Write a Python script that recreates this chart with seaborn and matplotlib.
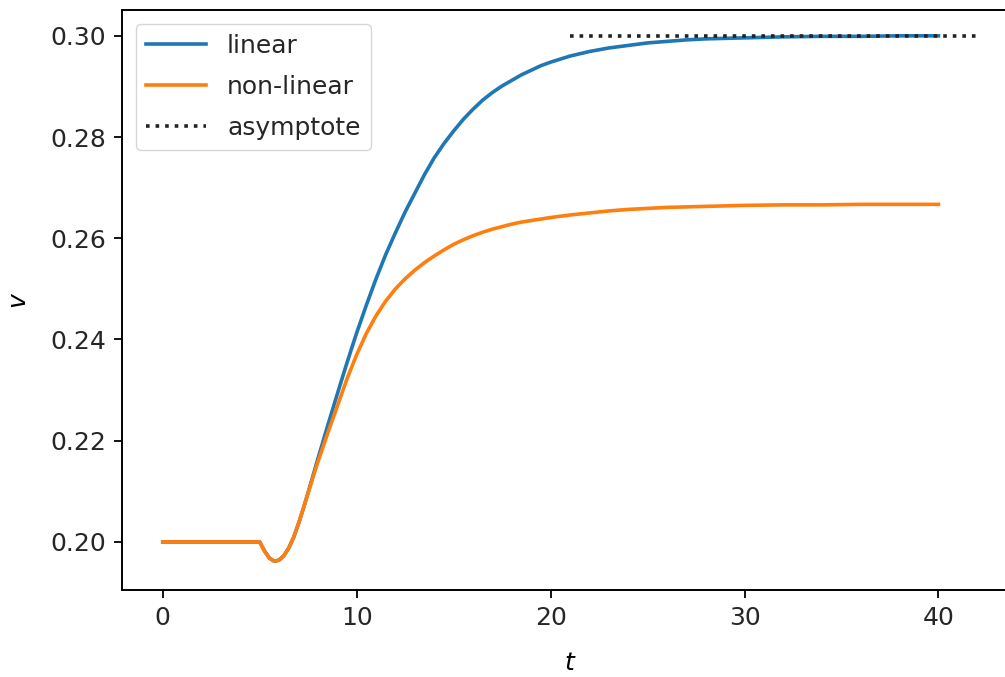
import numpy as np
import pandas as pd
import matplotlib
matplotlib.use("Agg")
import matplotlib.pyplot as plt
import seaborn as sns

# ---- data ----
t_values = [0, 1, 2, 3, 4, 5, 5.25, 5.5, 5.75, 6.0, 6.25, 6.5, 6.75, 7.0, 7.25, 7.5, 7.75,
            8.0, 8.5, 9.0, 9.5, 10.0, 10.5, 11.0, 11.5, 12.0, 12.5, 13.0, 13.5, 14.0, 14.5,
            15.0, 15.5, 16.0, 16.5, 17.0, 17.5, 18.0, 18.5, 19.0, 19.5, 20.0,
            21, 22, 23, 24, 25, 26, 27, 28, 29, 30, 32, 34, 36, 38, 40]

v_linear = [0.2, 0.2, 0.2, 0.2, 0.2, 0.2, 0.1982, 0.1968, 0.1962, 0.1964, 0.1973, 0.1988,
            0.2009, 0.2036, 0.2066, 0.2098, 0.2131,
            0.2164, 0.2229, 0.2292, 0.2354, 0.2413, 0.2468, 0.2520, 0.2568, 0.2611, 0.2652,
            0.2689, 0.2726, 0.2759, 0.2787,
            0.2812, 0.2835, 0.2855, 0.2873, 0.2888, 0.2901, 0.2912, 0.2923, 0.2932, 0.2941, 0.2948,
            0.2960, 0.2969, 0.2976, 0.2981, 0.2986, 0.2989, 0.2992, 0.2994, 0.2995, 0.2996,
            0.2998, 0.2999, 0.2999, 0.3000, 0.3000]

v_nonlinear = [0.2, 0.2, 0.2, 0.2, 0.2, 0.2, 0.1982, 0.1968, 0.1962, 0.1964, 0.1973, 0.1988,
               0.2009, 0.2036, 0.2066, 0.2097, 0.2128,
               0.2158, 0.2214, 0.2268, 0.2322, 0.2370, 0.2412, 0.2447, 0.2476, 0.2500, 0.2520,
               0.2537, 0.2552, 0.2565, 0.2577,
               0.2588, 0.2597, 0.2605, 0.2612, 0.2618, 0.2623, 0.2628, 0.2632, 0.2635, 0.2638, 0.2641,
               0.2646, 0.2650, 0.2654, 0.2657, 0.2659, 0.2661, 0.2662, 0.2663, 0.2664, 0.2665,
               0.2666, 0.2666, 0.2667, 0.2667, 0.2667]

asym_t = [21, 42]
asym_v = [0.3, 0.3]

labels = ["linear", "non-linear", "asymptote"]

# ---- styling ----
FS = 18
plt.rcParams.update({
    "font.family": ["DejaVu Sans"],
    "font.size": FS,
    "axes.linewidth": 1.4,
    "xtick.major.size": 6,
    "ytick.major.size": 6,
    "xtick.major.width": 1.3,
    "ytick.major.width": 1.3,
    "xtick.major.pad": 5.5,
    "ytick.major.pad": 5.5,
    "xtick.labelsize": FS,
    "ytick.labelsize": FS,
    "text.color": "#262626",
    "xtick.labelcolor": "#262626",
    "ytick.labelcolor": "#262626",
})

fig = plt.figure(figsize=(10.05, 6.77), dpi=100)
ax = fig.add_axes([0.1214, 0.1285, 0.8915, 0.8567])

df_lin = pd.DataFrame({"t": t_values, "v": v_linear})
df_non = pd.DataFrame({"t": t_values, "v": v_nonlinear})
df_asy = pd.DataFrame({"t": asym_t, "v": asym_v})

sns.lineplot(data=df_lin, x="t", y="v", ax=ax, color="#1f77b4", linewidth=2.6, label=labels[0])
sns.lineplot(data=df_non, x="t", y="v", ax=ax, color="#ff7f0e", linewidth=2.6, label=labels[1])
sns.lineplot(data=df_asy, x="t", y="v", ax=ax, color="#222222", linewidth=2.6,
             linestyle=":", label=labels[2])

ax.set_xlim(-2.1, 44.1)
ax.set_ylim(0.1905, 0.3051)
ax.set_xticks([0, 10, 20, 30, 40])
ax.set_yticks([0.20, 0.22, 0.24, 0.26, 0.28, 0.30])
ax.set_yticklabels(["0.20", "0.22", "0.24", "0.26", "0.28", "0.30"])
ax.set_xlabel("$t$", fontsize=FS, labelpad=15)
ax.set_ylabel("$v$", fontsize=FS, labelpad=14)

leg = ax.legend(loc="upper left", fontsize=FS, handlelength=2.4, handletextpad=0.85,
                labelspacing=0.68, borderaxespad=0.55, framealpha=0.8)

fig.savefig("out.png", dpi=100)
